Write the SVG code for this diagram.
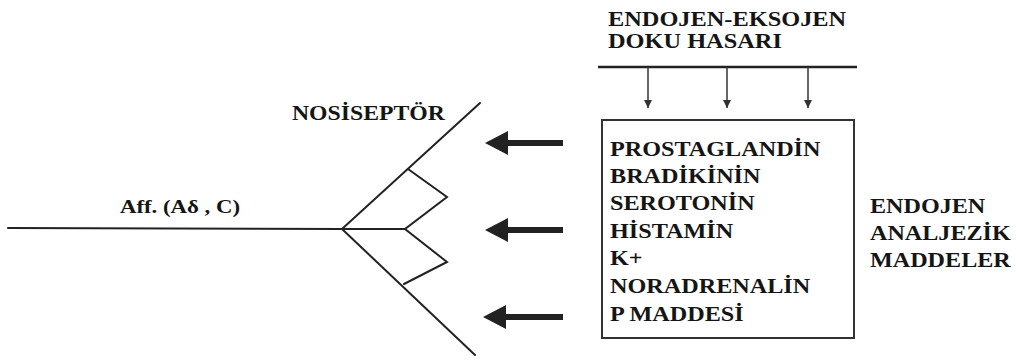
<svg xmlns="http://www.w3.org/2000/svg" width="1016" height="360" viewBox="0 0 1016 360">
<style>
  .t { font-family: "Liberation Serif", "Times New Roman", serif; font-weight: bold; font-size: 21px; fill: #151515; }
  .ln { stroke: #222; stroke-width: 2; fill: none; stroke-linecap: round; stroke-linejoin: miter; }
  .thin { stroke: #333; stroke-width: 1.5; fill: none; }
  .thick { stroke: #222; stroke-width: 6; fill: none; }
</style>
<defs>
  <marker id="ah" viewBox="0 0 10 10" refX="10" refY="5" markerWidth="8" markerHeight="10" markerUnits="userSpaceOnUse" orient="auto">
    <path d="M0,0 L10,5 L0,10 Z" fill="#333"/>
  </marker>
</defs>
<rect width="1016" height="360" fill="#fff"/>

<g id="nosiseptor">
  <g transform="translate(292,0) scale(1.13,1)">
    <text class="t" x="0" y="120">NOSİSEPTÖR</text>
  </g>
  <path class="ln" d="M8,228 L342,229 L480,103"/>
  <path class="ln" d="M342,229 L475,355"/>
  <path class="ln" d="M342,229 L405,229"/>
  <path class="ln" d="M408,169 L447,197 L405,229 L447,262 L404,284"/>
</g>

<g id="afferent">
  <g transform="translate(120,0) scale(1.2,1)">
    <text class="t" x="0" y="213" style="font-size:19px">Aff. (Aδ , C)</text>
  </g>
</g>

<g id="hasar">
  <g transform="translate(608,0) scale(1.16,1)">
    <text class="t" x="0" y="26">ENDOJEN-EKSOJEN</text>
    <text class="t" x="0" y="48">DOKU HASARI</text>
  </g>
  <line x1="598" y1="67" x2="857" y2="67" stroke="#222" stroke-width="2.5"/>
</g>

<g id="maddeler">
  <rect x="602" y="120" width="252" height="218" fill="none" stroke="#333" stroke-width="2"/>
  <g transform="translate(610,0) scale(1.1,1)">
    <text class="t" x="0" y="156" style="font-size:22px">PROSTAGLANDİN</text>
    <text class="t" x="0" y="183" style="font-size:22px">BRADİKİNİN</text>
    <text class="t" x="0" y="210" style="font-size:22px">SEROTONİN</text>
    <text class="t" x="0" y="238" style="font-size:22px">HİSTAMİN</text>
    <text class="t" x="0" y="265" style="font-size:22px">K+</text>
    <text class="t" x="0" y="293" style="font-size:22px">NORADRENALİN</text>
    <text class="t" x="0" y="321" style="font-size:22px">P MADDESİ</text>
  </g>
</g>

<g id="analjezik">
  <g transform="translate(870,0) scale(1.15,1)">
    <text class="t" x="0" y="213">ENDOJEN</text>
    <text class="t" x="0" y="240">ANALJEZİK</text>
    <text class="t" x="0" y="267">MADDELER</text>
  </g>
</g>

<g id="connectors">
  <line class="thin" x1="648" y1="67" x2="648" y2="108" marker-end="url(#ah)"/>
  <line class="thin" x1="727" y1="67" x2="727" y2="108" marker-end="url(#ah)"/>
  <line class="thin" x1="808" y1="67" x2="808" y2="108" marker-end="url(#ah)"/>
  <line class="thick" x1="563" y1="143" x2="505" y2="143"/>
  <path d="M485,143 L508,131 L508,155 Z" fill="#222"/>
  <line class="thick" x1="563" y1="230" x2="505" y2="230"/>
  <path d="M485,230 L508,218 L508,242 Z" fill="#222"/>
  <line class="thick" x1="563" y1="317" x2="503" y2="317"/>
  <path d="M483,317 L506,305 L506,329 Z" fill="#222"/>
</g>
</svg>
